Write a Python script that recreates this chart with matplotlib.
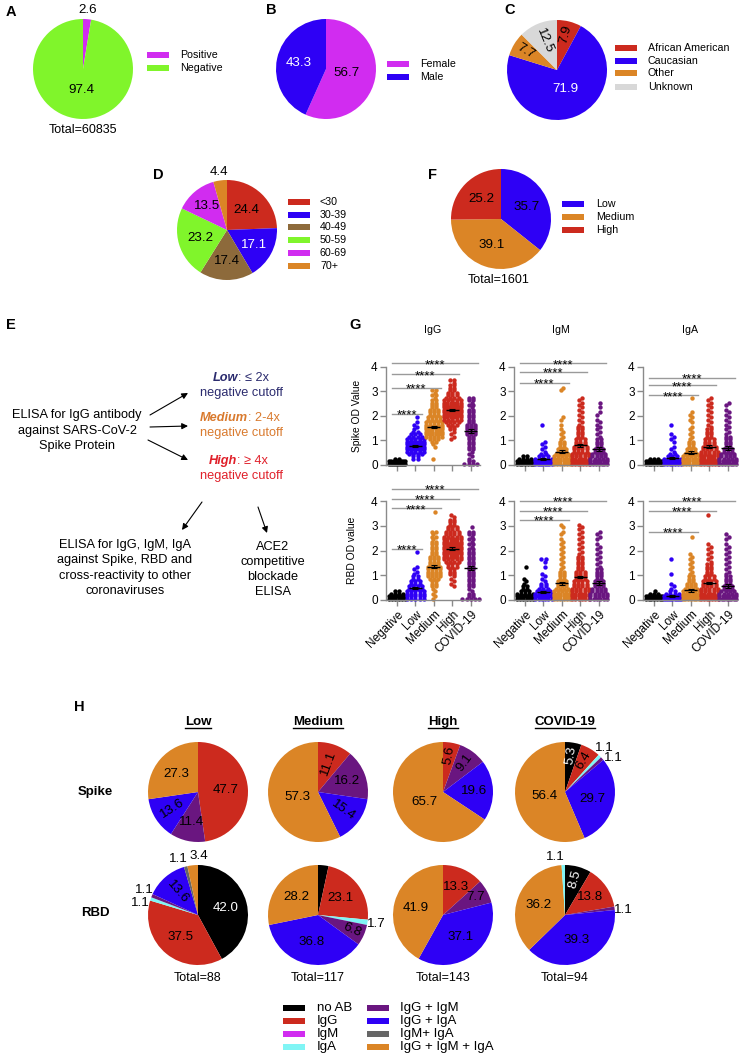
import numpy as np
import matplotlib.pyplot as plt
from matplotlib.patches import Rectangle

plt.rcParams['font.family'] = ['Liberation Sans', 'DejaVu Sans']

# colours
RED = '#CC2A1E'
BLUE = '#2E00F5'
ORANGE = '#DB8526'
PURPLE = '#6A1680'
MAGENTA = '#D12CF0'
GREEN = '#80F52B'
LGREY = '#D8D8D8'
BROWN = '#8D6A3B'
CYAN = '#80F5F5'
DGREY = '#666666'
BLACK = '#000000'

# ---------------- data ----------------
a_labels = ['Positive', 'Negative']
a_values = [2.6, 97.4]
b_labels = ['Female', 'Male']
b_values = [56.7, 43.3]
c_labels = ['African American', 'Caucasian', 'Other', 'Unknown']
c_values = [7.9, 71.9, 7.7, 12.5]
d_labels = ['<30', '30-39', '40-49', '50-59', '60-69', '70+']
d_values = [24.4, 17.1, 17.4, 23.2, 13.5, 4.4]
f_labels = ['Low', 'Medium', 'High']
f_values = [35.7, 39.1, 25.2]
total_a = 60835
total_f = 1601

# G: number of samples per OD bin (bin centres 0.05, 0.15, ... 3.55)
groups = ['Negative', 'Low', 'Medium', 'High', 'COVID-19']
od_levels = np.round(np.arange(0.05, 3.6, 0.1), 2)

spike_igg = [
    [9, 8, 2],
    [0, 0, 2, 2, 4, 5, 7, 9, 9, 7, 5, 4, 3, 2, 1, 1, 1, 1, 0, 1],
    [0, 0, 1, 0, 0, 0, 0, 1, 1, 2, 3, 5, 6, 6, 6, 6, 5, 5, 4, 4, 3, 3, 3, 2, 2, 2, 2, 1, 2, 1, 2],
    [0, 0, 0, 0, 0, 0, 0, 0, 0, 0, 1, 1, 1, 1, 2, 2, 3, 4, 5, 6, 7, 7, 7, 7, 6, 6, 5, 4, 3, 3, 2, 2, 2, 1, 2],
    [4, 2, 1, 1, 1, 1, 2, 2, 2, 2, 2, 2, 3, 3, 3, 3, 3, 2, 2, 2, 2, 2, 2, 1, 2, 1, 2, 2],
]
spike_igm = [
    [7, 8, 4, 2],
    [8, 8, 5, 3, 2, 1, 1, 1, 1, 1, 0, 0, 0, 0, 0, 0, 1],
    [6, 6, 6, 5, 4, 3, 3, 2, 2, 2, 1, 1, 1, 1, 1, 0, 1, 0, 1, 1, 0, 0, 0, 0, 0, 0, 0, 0, 0, 0, 1, 1],
    [7, 7, 6, 5, 5, 4, 4, 4, 3, 3, 3, 2, 2, 2, 2, 2, 1, 1, 1, 1, 1, 1, 1, 1, 1, 1, 1, 1],
    [7, 6, 5, 4, 4, 3, 3, 2, 2, 2, 2, 1, 1, 1, 1, 1, 1, 1, 1, 0, 1, 1, 0, 1, 0, 1],
]
spike_iga = [
    [7, 8, 3],
    [7, 8, 6, 3, 2, 1, 1, 1, 0, 1, 1, 1, 1, 0, 0, 0, 1],
    [6, 6, 6, 5, 4, 3, 3, 2, 2, 2, 1, 1, 1, 1, 1, 1, 0, 1, 1, 1, 1, 1, 0, 0, 0, 0, 0, 1],
    [7, 7, 6, 6, 5, 5, 4, 4, 3, 3, 3, 2, 2, 2, 2, 1, 1, 1, 1, 1, 1, 1, 1, 1, 1, 1, 1, 1],
    [7, 6, 5, 4, 4, 3, 3, 2, 2, 2, 2, 2, 1, 1, 1, 1, 1, 1, 1, 1, 1, 1, 1, 0, 1, 1],
]
rbd_igg = [
    [6, 8, 4, 2],
    [5, 5, 5, 5, 4, 4, 3, 3, 2, 2, 1, 1, 1, 1, 0, 0, 0, 0, 0, 1],
    [1, 1, 1, 1, 1, 2, 2, 2, 3, 4, 4, 4, 4, 4, 3, 3, 3, 3, 2, 2, 2, 2, 2, 2, 1, 2, 1, 2, 0, 0, 0, 0, 0, 0, 0, 1],
    [0, 0, 0, 0, 0, 1, 1, 1, 1, 1, 2, 2, 2, 3, 3, 4, 5, 6, 6, 7, 7, 7, 7, 6, 6, 5, 4, 4, 3, 3, 2, 2, 2, 1, 1],
    [5, 2, 2, 1, 1, 2, 2, 2, 2, 2, 2, 2, 2, 2, 2, 2, 2, 2, 2, 2, 2, 1, 2, 1, 2, 1, 2, 2, 0, 1],
]
rbd_igm = [
    [6, 8, 5, 3, 2, 2, 1, 1, 1, 0, 0, 0, 0, 1],
    [6, 7, 6, 4, 3, 2, 2, 1, 1, 1, 1, 0, 0, 1, 0, 1, 2],
    [6, 6, 6, 5, 4, 3, 3, 3, 2, 2, 2, 2, 1, 1, 1, 1, 1, 1, 1, 1, 1, 1, 1, 1, 1, 0, 1, 1, 0, 1, 1],
    [6, 6, 6, 5, 5, 4, 4, 4, 3, 3, 3, 3, 2, 2, 2, 2, 2, 2, 1, 1, 1, 1, 1, 1, 1, 1, 1, 1, 1, 1, 1],
    [6, 5, 5, 4, 4, 3, 3, 3, 2, 2, 2, 2, 2, 1, 1, 1, 1, 1, 1, 1, 1, 1, 1, 0, 1, 1, 1, 1],
]
rbd_iga = [
    [7, 8, 3, 1],
    [9, 8, 4, 2, 1, 1, 1, 0, 0, 0, 1, 0, 0, 0, 0, 0, 1],
    [7, 7, 6, 5, 4, 3, 3, 2, 2, 2, 1, 1, 1, 1, 1, 1, 1, 1, 1, 0, 0, 0, 0, 0, 0, 1],
    [7, 7, 6, 5, 5, 4, 4, 4, 3, 3, 2, 2, 2, 2, 2, 1, 1, 1, 1, 1, 1, 1, 1, 0, 0, 0, 0, 0, 0, 0, 0, 0, 0, 0, 1],
    [8, 6, 5, 4, 3, 3, 2, 2, 2, 2, 1, 1, 1, 1, 1, 1, 1, 1, 1, 1, 1, 1, 1, 0, 1, 1, 1],
]
# mean and SEM
spike_igg_mean = [0.10, 0.77, 1.55, 2.25, 1.40]
spike_igm_mean = [0.15, 0.25, 0.55, 0.80, 0.65]
spike_iga_mean = [0.12, 0.28, 0.50, 0.75, 0.68]
rbd_igg_mean = [0.12, 0.48, 1.35, 2.08, 1.28]
rbd_igm_mean = [0.20, 0.32, 0.68, 0.92, 0.70]
rbd_iga_mean = [0.12, 0.15, 0.40, 0.68, 0.58]
sem = [0.01, 0.04, 0.06, 0.05, 0.08]
# significance brackets (group a, group b, height)
spike_igg_sig = [(0, 1, 2.1), (0, 2, 3.15), (0, 3, 3.7), (0, 4, 4.15)]
spike_igm_sig = [(0, 2, 3.35), (0, 3, 3.8), (0, 4, 4.15)]
spike_iga_sig = [(0, 2, 2.85), (0, 3, 3.25), (0, 4, 3.55)]
rbd_igg_sig = [(0, 1, 2.08), (0, 2, 3.7), (0, 3, 4.1), (0, 4, 4.5)]
rbd_igm_sig = [(0, 2, 3.25), (0, 3, 3.6), (0, 4, 4.0)]
rbd_iga_sig = [(0, 2, 2.75), (0, 3, 3.6), (0, 4, 4.0)]

# H
ab_cats = ['no AB', 'IgG', 'IgM', 'IgA', 'IgG + IgM', 'IgG + IgA', 'IgM+ IgA', 'IgG + IgM + IgA']
h_cols = ['Low', 'Medium', 'High', 'COVID-19']
h_totals = [88, 117, 143, 94]
spike_low = [0, 47.7, 0, 0, 11.4, 13.6, 0, 27.3]
spike_med = [0, 11.1, 0, 0, 16.2, 15.4, 0, 57.3]
spike_high = [0, 5.6, 0, 0, 9.1, 19.6, 0, 65.7]
spike_covid = [5.3, 6.4, 0, 1.1, 1.1, 29.7, 0, 56.4]
rbd_low = [42.0, 37.5, 0, 1.1, 1.1, 13.6, 1.1, 3.4]
rbd_med = [3.4, 23.1, 0, 1.7, 6.8, 36.8, 0, 28.2]
rbd_high = [0, 13.3, 0, 0, 7.7, 37.1, 0, 41.9]
rbd_covid = [8.5, 13.8, 0, 1.1, 1.1, 39.3, 0, 36.2]
rbd_covid_order = [0, 1, 4, 5, 7, 3]   # IgA slice sits last in this pie

ab_colors = [BLACK, RED, MAGENTA, CYAN, PURPLE, BLUE, DGREY, ORANGE]
dot_colors = [BLACK, BLUE, ORANGE, RED, PURPLE]

# ---------------- figure ----------------
W, H = 747, 1057
fig = plt.figure(figsize=(W / 100, H / 100), dpi=100)
ov = fig.add_axes([0, 0, 1, 1])
ov.set_xlim(0, W)
ov.set_ylim(H, 0)
ov.axis('off')


def draw_pie(cx, cy, values, colors, white=(), rot=(), nudge=None, order=None, r=50, fs=9.6):
    nudge = nudge or {}
    idx = [i for i in (order if order is not None else range(len(values))) if values[i] > 0]
    ax = fig.add_axes([(cx - 1.5 * r) / W, 1 - (cy + 1.5 * r) / H, 3 * r / W, 3 * r / H])
    vals = [values[i] for i in idx]
    wedges, _ = ax.pie(vals, colors=[colors[i] for i in idx], startangle=90,
                       counterclock=False, wedgeprops=dict(linewidth=0))
    ax.set_xlim(-1.5, 1.5)
    ax.set_ylim(-1.5, 1.5)
    ax.set_aspect('equal')
    ax.axis('off')
    for i, w, v in zip(idx, wedges, vals):
        mid = (w.theta1 + w.theta2) / 2 + nudge.get(i, 0)
        if v < 4.5:
            d = 1.18
        elif v >= 50:
            d = 0.42
        elif v >= 20:
            d = 0.56
        elif v >= 10:
            d = 0.62
        else:
            d = 0.74
        t = np.deg2rad(mid)
        ang = 0
        if i in rot:
            ang = mid if np.cos(t) >= 0 else mid - 180
        ax.text(d * np.cos(t), d * np.sin(t), f'{v:.1f}', ha='center', va='center',
                rotation=ang, fontsize=fs, color='white' if i in white else 'black')
    return ax


def legend_block(xp, ys, labels, colors, xt, fs=7.7, pw=22, ph=5.5):
    for y, lab, c in zip(ys, labels, colors):
        ov.add_patch(Rectangle((xp, y - ph / 2), pw, ph, color=c, lw=0))
        ov.text(xt, y, lab, va='center', ha='left', fontsize=fs)


def letter(x, y, s):
    ov.text(x, y, s, fontsize=10.5, fontweight='bold', ha='left', va='center')


# A
letter(6, 12, 'A')
draw_pie(83, 69, a_values, [MAGENTA, GREEN])
legend_block(147, [55, 68], a_labels, [MAGENTA, GREEN], 180)
ov.text(83, 130, f'Total={total_a}', ha='center', va='center', fontsize=9)

# B
letter(266, 10, 'B')
draw_pie(326, 69, b_values, [MAGENTA, BLUE], white={1})
legend_block(387, [64, 77], b_labels, [MAGENTA, BLUE], 420)

# C
letter(504, 10, 'C')
draw_pie(557, 70, c_values, [RED, BLUE, ORANGE, LGREY], white={1}, rot={0, 2, 3})
legend_block(615, [48, 61, 73, 87], c_labels, [RED, BLUE, ORANGE, LGREY], 648)

# D
letter(153, 175, 'D')
draw_pie(227, 230, d_values, [RED, BLUE, BROWN, GREEN, MAGENTA, ORANGE], white={1})
legend_block(288, [202, 215, 227, 240, 253, 266], d_labels,
             [RED, BLUE, BROWN, GREEN, MAGENTA, ORANGE], 320)

# F
letter(428, 175, 'F')
draw_pie(501, 219, f_values, [BLUE, ORANGE, RED])
legend_block(562, [204, 217, 230], f_labels, [BLUE, ORANGE, RED], 596)
ov.text(499, 280, f'Total={total_f}', ha='center', va='center', fontsize=9)

# E
letter(6, 325, 'E')
efs = 9.2
for y, s in zip([415, 431, 446], ['ELISA for IgG antibody', 'against SARS-CoV-2', 'Spike Protein']):
    ov.text(77, y, s, ha='center', va='center', fontsize=efs)
for (split, y, head, tail, col) in [(238, 378, 'Low', ': \u2264 2x', '#2B2B6E'),
                                    (248, 418, 'Medium', ': 2-4x', '#D97A2E'),
                                    (237, 461, 'High', ': \u2265 4x', '#E0202A')]:
    ov.text(split, y, head, ha='right', va='center', fontsize=efs, color=col,
            fontweight='bold', fontstyle='italic')
    ov.text(split, y, tail, ha='left', va='center', fontsize=efs, color=col)
    ov.text(241, y + 15, 'negative cutoff', ha='center', va='center', fontsize=efs, color=col)
for y, s in zip([545, 560, 576, 591], ['ELISA for IgG, IgM, IgA', 'against Spike, RBD and',
                                       'cross-reactivity to other', 'coronaviruses']):
    ov.text(125, y, s, ha='center', va='center', fontsize=efs)
for y, s in zip([547, 562, 577, 592], ['ACE2', 'competitive', 'blockade', 'ELISA']):
    ov.text(273, y, s, ha='center', va='center', fontsize=efs)
arrows = [((150, 415), (188, 393)), ((150, 427), (188, 426)), ((148, 440), (188, 460)),
          ((202, 502), (182, 530)), ((258, 507), (267, 533))]
for p0, p1 in arrows:
    ov.annotate('', xy=p1, xytext=p0,
                arrowprops=dict(arrowstyle='-|>', color='k', lw=0.8, mutation_scale=9,
                                shrinkA=0, shrinkB=0))


# G
def row_offsets(n, k):
    if n == 1:
        return np.array([0.07 if k % 2 else -0.07])
    half = min((n - 1) * 0.115, 0.45)
    return np.linspace(-half, half, n)


def od_panel(left, top, height, counts, means, sig, xlabels):
    ax = fig.add_axes([left / W, 1 - (top + height) / H, 94 / W, height / H])
    ax.set_xlim(-0.6, 4.5)
    ax.set_ylim(0, 4)
    for g, (cnt, col) in enumerate(zip(counts, dot_colors)):
        xs, ys = [], []
        for k, (lev, n) in enumerate(zip(od_levels, cnt)):
            if n:
                xs.extend(g + row_offsets(n, k))
                ys.extend([lev] * n)
        ax.scatter(xs, ys, s=10, color=col, linewidths=0, clip_on=False, zorder=2)
    pos = np.arange(len(means))
    ax.hlines(means, pos - 0.35, pos + 0.35, color='k', lw=1, zorder=3)
    ax.errorbar(pos, means, yerr=sem, fmt='none', ecolor='k', elinewidth=0.8,
                capsize=2, capthick=0.8, zorder=3)
    for a, b, h in sig:
        x0, x1 = a - 0.3, b + 0.38
        ax.plot([x0, x1], [h, h], color='#9a9a9a', lw=1, clip_on=False)
        ax.annotate('****', ((x0 + x1) / 2, h), xytext=(0, -3.5), textcoords='offset points',
                    ha='center', va='baseline', fontsize=9.5, annotation_clip=False)
    for s in ['top', 'right']:
        ax.spines[s].set_visible(False)
    for s in ['left', 'bottom']:
        ax.spines[s].set_color('#8a8a8a')
        ax.spines[s].set_linewidth(1)
    ax.set_yticks(range(5))
    ax.set_xticks(pos)
    ax.tick_params(colors='#8a8a8a', labelcolor='k', labelsize=8.5, length=4, width=1, pad=2)
    if xlabels:
        ax.set_xticklabels(groups, rotation=45, ha='right', rotation_mode='anchor', fontsize=8.5)
    else:
        ax.set_xticklabels([])
    ax.patch.set_alpha(0)
    return ax


letter(349, 325, 'G')
g_lefts = [386, 514, 643]
for left, title in zip(g_lefts, ['IgG', 'IgM', 'IgA']):
    ov.text(left + 47, 330, title, ha='center', va='center', fontsize=7.7)
for left, cnt, m, sg in zip(g_lefts, [spike_igg, spike_igm, spike_iga],
                            [spike_igg_mean, spike_igm_mean, spike_iga_mean],
                            [spike_igg_sig, spike_igm_sig, spike_iga_sig]):
    od_panel(left, 367, 98, cnt, m, sg, False)
for left, cnt, m, sg in zip(g_lefts, [rbd_igg, rbd_igm, rbd_iga],
                            [rbd_igg_mean, rbd_igm_mean, rbd_iga_mean],
                            [rbd_igg_sig, rbd_igm_sig, rbd_iga_sig]):
    od_panel(left, 501, 99, cnt, m, sg, True)
ov.text(357, 416, 'Spike OD Value', rotation=90, ha='center', va='center', fontsize=7.4)
ov.text(352, 550, 'RBD OD value', rotation=90, ha='center', va='center', fontsize=7.4)

# H
letter(74, 707, 'H')
h_x = [198, 318, 443, 565]
h_titles = []
for x, t in zip(h_x, h_cols):
    h_titles.append(ov.text(x, 722, t, ha='center', va='center', fontsize=9.5, fontweight='bold'))
ov.text(95, 792, 'Spike', ha='center', va='center', fontsize=9.5, fontweight='bold')
ov.text(95, 913, 'RBD', ha='center', va='center', fontsize=9.5, fontweight='bold')

spike_rows = [spike_low, spike_med, spike_high, spike_covid]
spike_rot = [{5}, {1, 5}, {1, 4}, {0, 1}]
spike_nudge = [{}, {}, {}, {3: 2.5, 4: -7}]
for x, vals, rt, nd in zip(h_x, spike_rows, spike_rot, spike_nudge):
    draw_pie(x, 792, vals, ab_colors, white={0}, rot=rt, nudge=nd)

rbd_rows = [rbd_low, rbd_med, rbd_high, rbd_covid]
rbd_rot = [{5}, {4}, set(), {0}]
rbd_nudge = [{3: 7, 4: -2, 6: 5.5, 7: -7}, {0: 6}, {}, {3: 7, 4: -3}]
rbd_orders = [None, None, None, rbd_covid_order]
for x, vals, rt, nd, od in zip(h_x, rbd_rows, rbd_rot, rbd_nudge, rbd_orders):
    draw_pie(x, 915, vals, ab_colors, white={0}, rot=rt, nudge=nd, order=od)
for x, n in zip(h_x, h_totals):
    ov.text(x, 978, f'Total={n}', ha='center', va='center', fontsize=9)

legend_block(283, [1008, 1021, 1034, 1047], ab_cats[:4], ab_colors[:4], 317, fs=9.5, ph=6.5)
legend_block(367, [1008, 1021, 1034, 1047], ab_cats[4:], ab_colors[4:], 400, fs=9.5, ph=6.5)

# underline the column titles
fig.canvas.draw()
for t in h_titles:
    bb = t.get_window_extent()
    yl = H - bb.y0 - 0.5
    ov.plot([bb.x0, bb.x1], [yl, yl], color='k', lw=1)

fig.savefig('out.png', dpi=100)
